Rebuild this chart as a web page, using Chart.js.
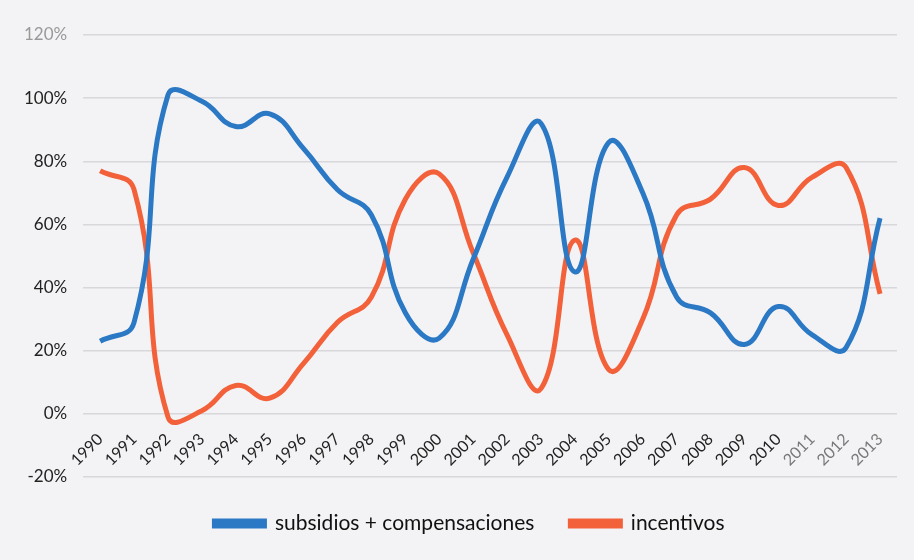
<!DOCTYPE html>
<html>
<head>
<meta charset="utf-8">
<script src="https://cdn.jsdelivr.net/npm/chart.js@4/dist/chart.umd.min.js"></script>
<style>
  html, body { margin: 0; padding: 0; background: #f3f3f5; }
  #wrap { width: 914px; height: 560px; }
</style>
</head>
<body>
<div id="wrap"><canvas id="chart" width="914" height="560"></canvas></div>
<script>
const years = ["1990", "1991", "1992", "1993", "1994", "1995", "1996", "1997", "1998", "1999",
  "2000", "2001", "2002", "2003", "2004", "2005", "2006", "2007", "2008", "2009",
  "2010", "2011", "2012", "2013"];

const subsidios = [23, 29, 101, 99, 91, 95, 84, 71, 63, 32, 24, 49, 75, 92, 45, 86, 70, 37, 32, 22, 34, 25, 21, 62];
const incentivos = [77, 71, -1, 1, 9, 5, 16, 29, 37, 68, 76, 51, 25, 8, 55, 14, 30, 63, 68, 78, 66, 75, 78, 38];

const yMin = -20;
const yMax = 120;
const yStep = 20;

const blue = "#2b78c4";
const orange = "#f2613a";

// fixed legend height so the plot ends at the -20% line, legend sits a bit right of centre
const legendTweak = {
  id: "legendTweak",
  afterInit(chart) {
    const legend = chart.legend;
    const fit = legend.fit;
    legend.fit = function () {
      fit.call(this);
      this.height = 83;
    };
  },
  afterLayout(chart) {
    chart.legend.left += 17;
    chart.legend.right += 17;
  },
};

const ctx = document.getElementById("chart");

new Chart(ctx, {
  type: "line",
  data: {
    labels: years,
    datasets: [
      {
        label: "subsidios + compensaciones",
        data: subsidios,
        borderColor: blue,
        backgroundColor: blue,
        borderWidth: 5,
        tension: 0.45,
        pointRadius: 0,
      },
      {
        label: "incentivos",
        data: incentivos,
        borderColor: orange,
        backgroundColor: orange,
        borderWidth: 5,
        tension: 0.45,
        pointRadius: 0,
      },
    ],
  },
  plugins: [legendTweak],
  options: {
    responsive: false,
    animation: false,
    layout: {
      padding: { left: 8, right: 17, top: 35, bottom: 0 },
    },
    plugins: {
      legend: {
        position: "bottom",
        labels: {
          boxWidth: 50,
          boxHeight: 5,
          padding: 36,
          color: "#111",
          font: { family: "Lato", size: 21 },
        },
      },
      tooltip: { enabled: false },
    },
    scales: {
      x: {
        position: { y: 0 },
        offset: true,
        grid: { display: false, drawTicks: false },
        border: { display: false },
        ticks: {
          maxRotation: 45,
          minRotation: 45,
          padding: 16,
          color: (c) => (c.index >= 21 ? "#777" : "#222"),
          font: { family: "Lato", size: 16 },
        },
      },
      y: {
        min: yMin,
        max: yMax,
        grid: { color: "#d8d8dc", lineWidth: 1.5, drawTicks: false },
        border: { display: false },
        ticks: {
          stepSize: yStep,
          padding: 16,
          color: (c) => (c.tick.value === yMax ? "#999" : "#222"),
          font: { family: "Lato", size: 17 },
          callback: (v) => v + "%",
        },
      },
    },
  },
});
</script>
</body>
</html>
